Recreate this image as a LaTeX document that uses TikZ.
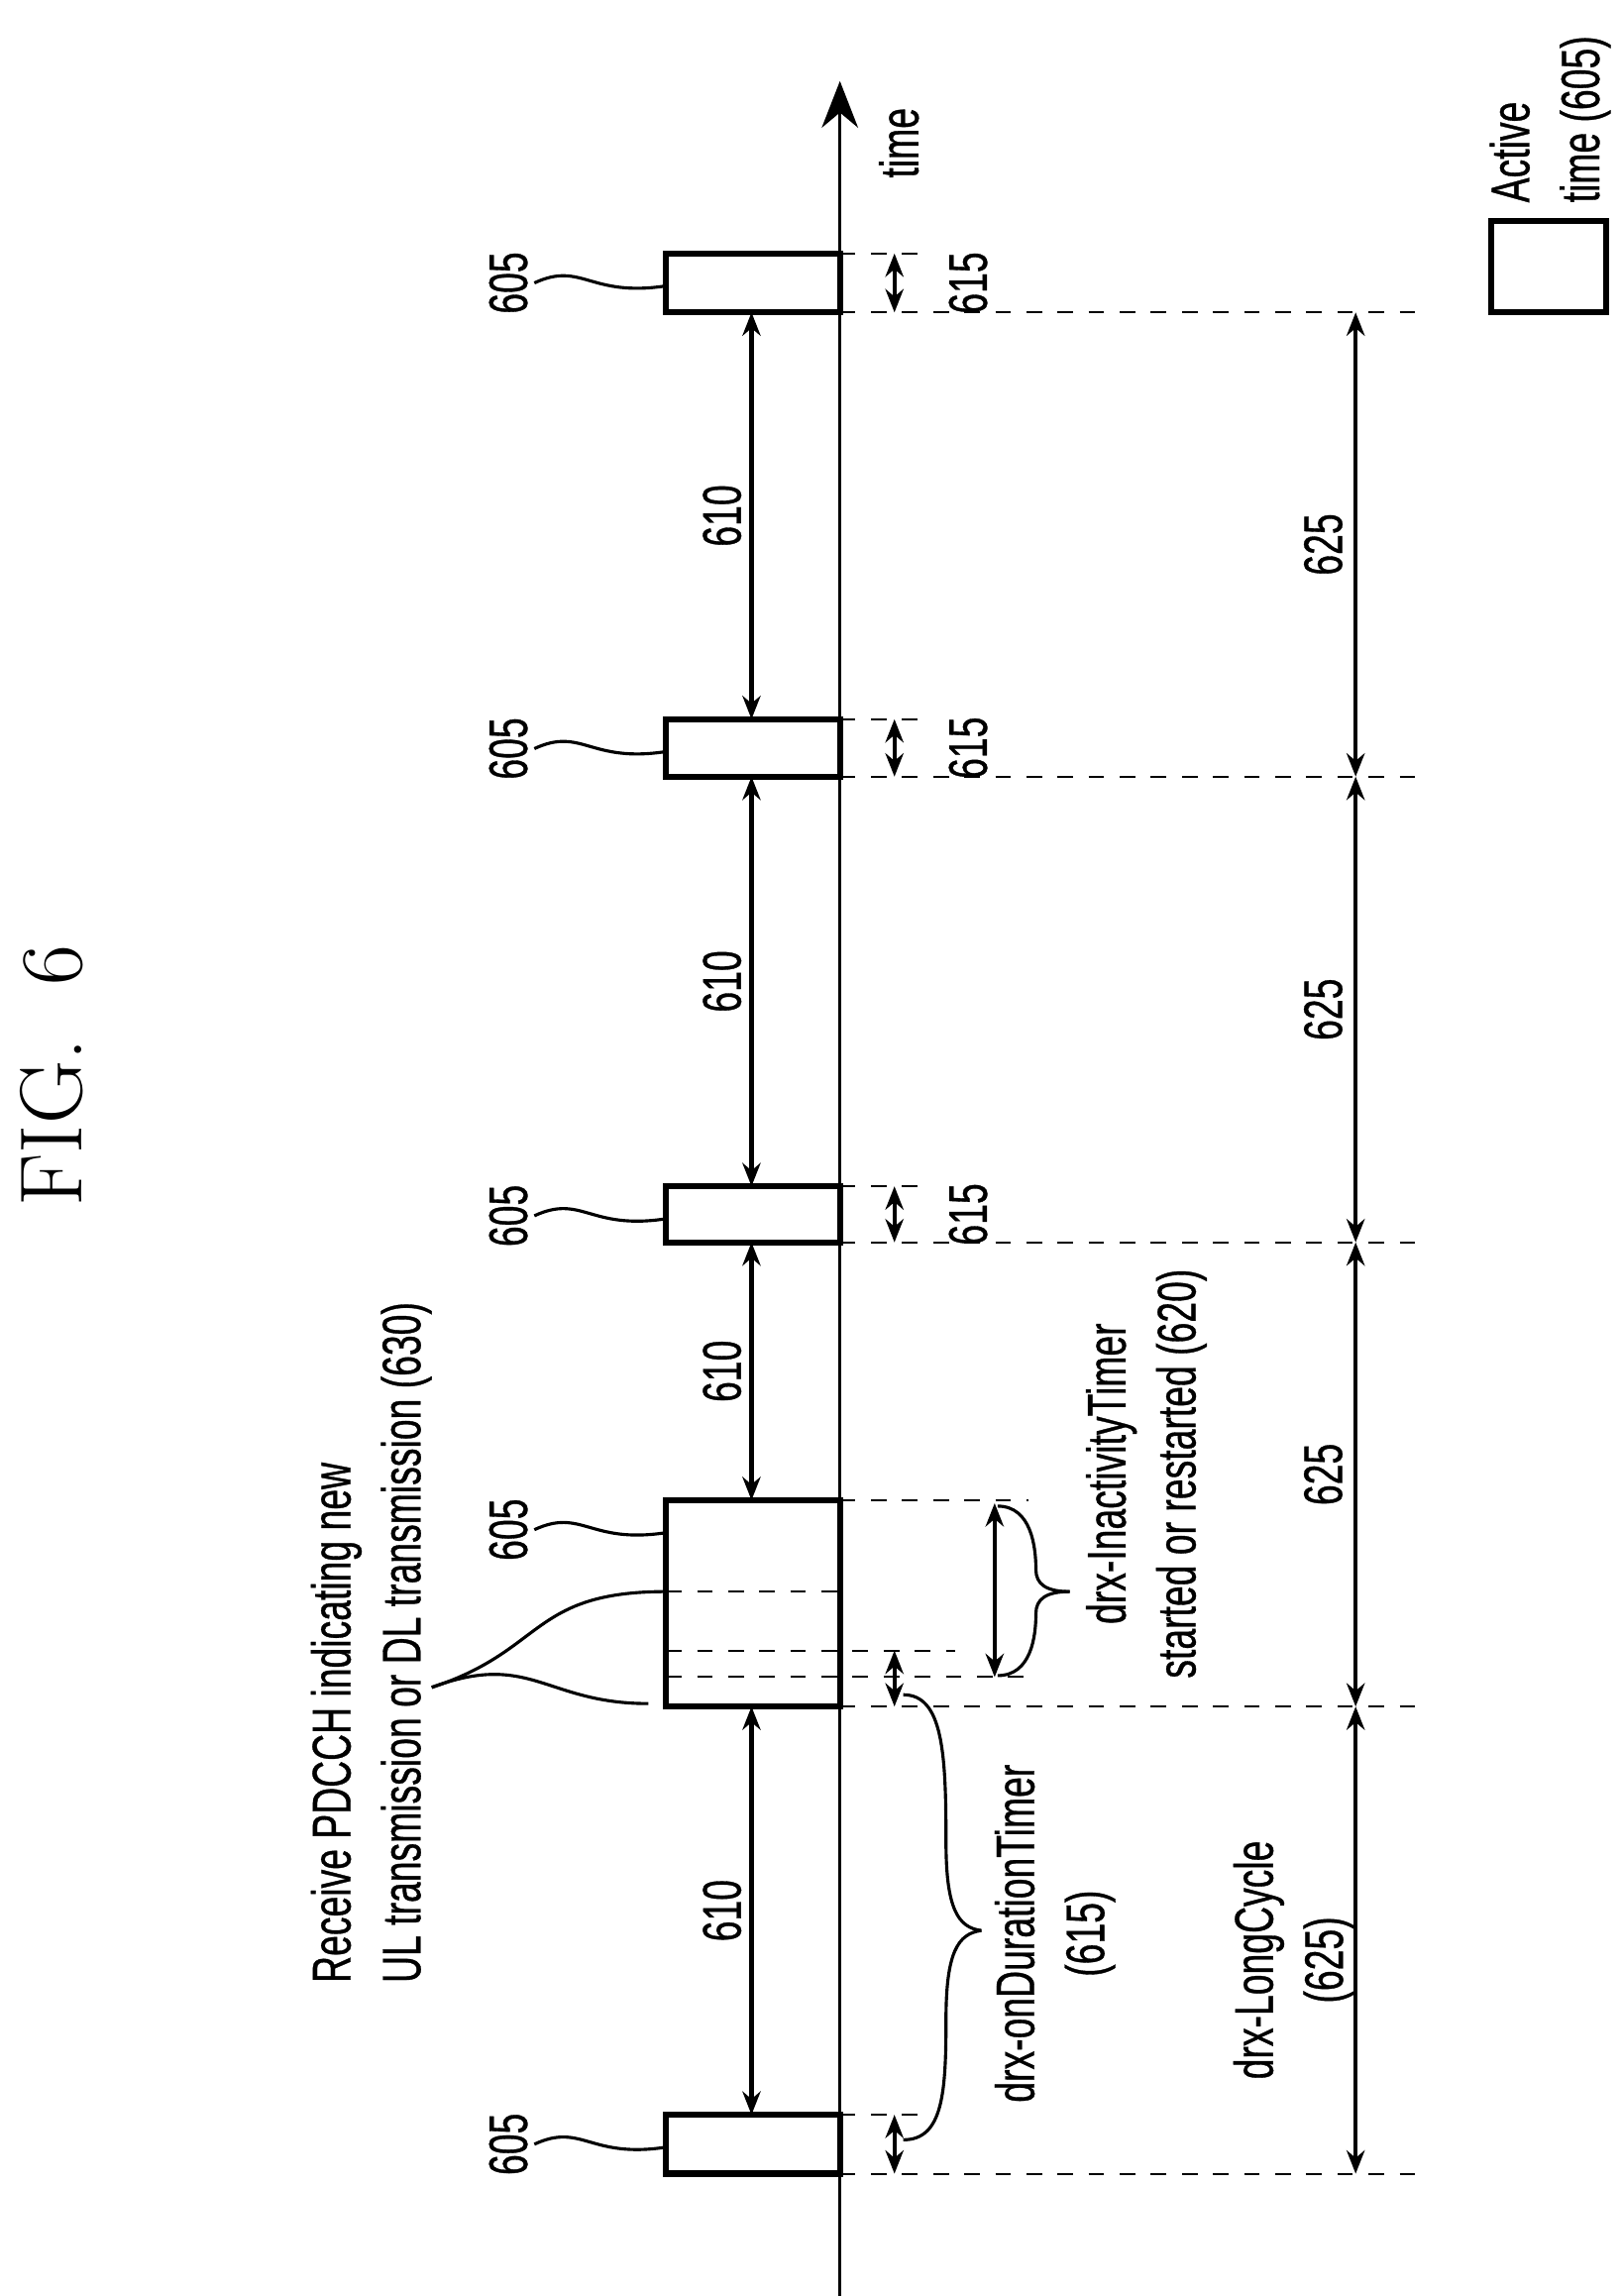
\documentclass[tikz,border=0pt]{standalone}
\usepackage{fontspec}
\setsansfont{Liberation Sans}[FakeStretch=0.68, FakeBold=0.6]
\usetikzlibrary{arrows.meta, calc}
\tikzset{
  lbl/.style={rotate=90, font=\sffamily\fontsize{10.5}{13.5}\selectfont, align=center, inner sep=1pt},
  dim/.style={<->, >={Stealth[length=4.5pt,width=3.5pt]}, thick},
  tick/.style={dashed, thin},
  act/.style={draw, very thick}
}
\begin{document}
\begin{tikzpicture}[x=0.01cm, y=-0.01cm, line width=0.6pt]
  \useasboundingbox (0,0) rectangle (1100,1558);

  % time axis
  \coordinate (axb) at (570,1558);
  \coordinate (axt) at (570,55);
  \draw[-{Stealth[length=9pt,width=7pt]}] (axb) -- (axt);
  \node[lbl] (time) at (610,97) {time};

  % legend
  \node[act, minimum width=0.78cm, minimum height=0.62cm, inner sep=0] (leg) at (1051,181) {};
  \node[lbl, anchor=west, align=left] (legt) at (1052,142) {Active\\time (605)};

  \node[rotate=90, font=\fontsize{17}{20}\selectfont] (fig) at (35,730) {FIG.\ \ 6};

  % active boxes
  \foreach \n/\t/\b in {1/1435/1475, 2/1018/1158, 3/805/843, 4/488/527, 5/172/212} {
    \draw[very thick] (452,\t) rectangle (570,\b);
    \coordinate (t\n) at (510,\t);
    \coordinate (b\n) at (510,\b);
    \coordinate (e\n) at (920,\b);
    \draw[tick] (570,\b) -- (965,\b);
    \node[lbl] (n\n) at (345,\t+20) {605};
    \draw (n\n.south) .. controls (395,\t+5) and (400,\t+30) .. (452,\t+22);
  }

  % 610
  \foreach \a/\b in {1/2, 2/3, 3/4, 4/5} {
    \draw[dim] (t\a) -- (b\b);
    \node[lbl] at ($(t\a)!0.5!(b\b)+(-20,0)$) {610};
  }

  % 625
  \draw[dim] (e1) -- (e2);
  \foreach \a/\b in {2/3, 3/4, 4/5} {
    \draw[dim] (e\a) -- (e\b);
    \node[lbl] at ($(e\a)!0.5!(e\b)+(-22,0)$) {625};
  }

  % 615
  \foreach \t/\b/\l in {1435/1475/0, 805/843/1, 488/527/1, 172/212/1} {
    \draw[tick] (570,\t) -- (632,\t);
    \coordinate (ua) at (607,\t);
    \coordinate (ub) at (607,\b);
    \draw[dim] (ua) -- (ub);
    \ifnum\l=1 \node[lbl] at (657,{(\t+\b)/2}) {615}; \fi
  }

  % inner lines of the long box
  \draw[tick] (452,1080) -- (570,1080);
  \draw[tick] (452,1120) -- (648,1120);
  \draw[tick] (452,1138) -- (698,1138);
  \draw[tick] (570,1018) -- (698,1018);
  \coordinate (oa) at (607,1120);
  \coordinate (ob) at (607,1158);
  \draw[dim] (oa) -- (ob);
  \coordinate (ia) at (675,1020);
  \coordinate (ib) at (675,1138);
  \draw[dim] (ia) -- (ib);

  % braces
  \draw (613,1452) .. controls (640,1452) and (642,1420) .. (642,1370)
        .. controls (642,1325) and (650,1312) .. (666,1310);
  \draw (613,1150) .. controls (640,1150) and (642,1190) .. (642,1250)
        .. controls (642,1295) and (650,1308) .. (666,1310);
  \draw (677,1022) .. controls (700,1022) and (703,1050) .. (703,1065)
        .. controls (703,1075) and (710,1080) .. (726,1080);
  \draw (677,1137) .. controls (700,1137) and (703,1110) .. (703,1095)
        .. controls (703,1085) and (710,1080) .. (726,1080);
  \draw (452,1080) .. controls (360,1080) and (370,1120) .. (293,1145);
  \draw (440,1156) .. controls (370,1156) and (360,1120) .. (293,1145);

  % texts
  \node[lbl, anchor=west, align=left] (rx) at (252,1350) {Receive PDCCH indicating new\\UL transmission or DL transmission (630)};
  \node[lbl] (ina) at (778,1000) {drx-InactivityTimer\\started or restarted (620)};
  \node[lbl] (ond) at (716,1312) {drx-onDurationTimer\\(615)};
  \node[lbl] (lc) at (878,1330) {drx-LongCycle\\(625)};
\end{tikzpicture}
\end{document}
